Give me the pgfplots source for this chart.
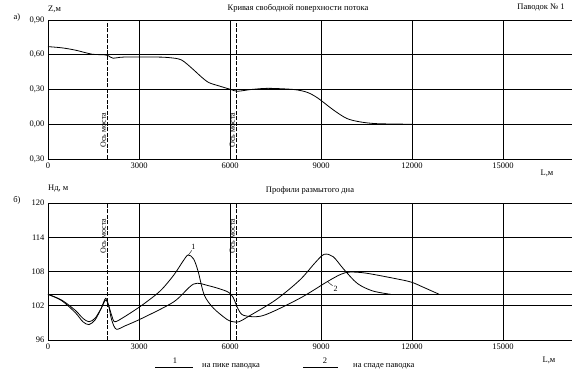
\documentclass[border=0pt]{standalone}
\usepackage{fontspec}
\setmainfont{Liberation Serif}
\usepackage{pgfplots}
\pgfplotsset{compat=1.18}
\pgfplotsset{
 panel/.style={scale only axis, anchor=south west, width=524pt, xmin=0, xmax=17275,
  axis x line*=bottom, axis y line*=left, axis line style={-, line width=0.8pt},
  xtick={0,3000,6000,9000,12000,15000}, xticklabels={0,3000,6000,9000,12000,15000},
  scaled x ticks=false, scaled y ticks=false,
  major tick length=0pt, ymajorgrids, xmajorgrids,
  x grid style={line width=0.5pt, black}, y grid style={line width=0.9pt, black},
  tick label style={font=\fontsize{8.5}{9}\selectfont},
  /pgf/number format/assume math mode=true,
  clip=false},
 curve/.style={black, line width=0.8pt, smooth, tension=0.5, no marks},
 bridge/.style={black, line width=0.5pt, dash pattern=on 4pt off 1.5pt, no marks}
}
\tikzset{bridgetext/.style={rotate=90, anchor=south, inner sep=1pt, font=\fontsize{8}{9}\selectfont}}
\begin{document}
\begin{tikzpicture}
\useasboundingbox (0pt,0pt) rectangle (575pt,372pt);
% ---------- panel a ----------
\begin{axis}[panel, at={(48pt,213pt)}, height=139pt, ymin=-0.3, ymax=0.9,
  ytick={-0.3,0,0.3,0.6,0.9}, yticklabels={{0,30},{0,00},{0,30},{0,60},{0,90}}]
\addplot[curve] coordinates {
(0,0.67) (450,0.66) (900,0.64) (1450,0.605) (1850,0.60) (2000,0.59) (2150,0.57)
(2500,0.58) (3600,0.58) (4000,0.575) (4400,0.555) (4800,0.47) (5050,0.41) (5300,0.36)
(5650,0.33) (6030,0.30) (6250,0.285) (6700,0.30) (7250,0.31) (8100,0.30) (8550,0.275)
(8900,0.225) (9400,0.125) (9850,0.05) (10300,0.02) (10850,0.005) (12000,0.0)};
\addplot[bridge] coordinates {(1950,-0.3) (1950,0.9)};
\addplot[bridge] coordinates {(6200,-0.3) (6200,0.9)};
\node[bridgetext] at (axis cs:1950,-0.05) {Ось моста};
\node[bridgetext] at (axis cs:6200,-0.05) {Ось моста};
\end{axis}
% ---------- panel b ----------
\begin{axis}[panel, at={(48pt,32pt)}, height=137pt, ymin=96, ymax=120,
  ytick={96,102,108,114,120}, yticklabels={96,102,108,114,120}]
\addplot[black, line width=0.9pt, no marks] coordinates {(0,104) (17275,104)};
\addplot[curve] coordinates {
(0,104.0) (450,103.0) (900,101.2) (1150,99.8) (1350,99.2) (1550,99.8) (1750,101.5)
(1900,103.0) (2000,102.0) (2100,100.3) (2200,99.2) (2500,100.0) (3100,102.1)
(3700,104.6) (4150,107.4) (4450,109.8) (4620,110.9) (4800,110.2) (4950,108.0)
(5150,103.9) (5450,101.6) (5900,99.6) (6100,99.2) (6300,99.2) (6600,100.1)
(7500,103.0) (8300,106.5) (8800,109.5) (9100,111.0) (9400,110.6) (9750,108.4)
(10200,105.9) (10700,104.6) (11300,104.0)};
\addplot[curve] coordinates {
(0,104.0) (450,102.9) (900,100.8) (1150,99.2) (1350,98.7) (1550,99.5) (1750,101.5)
(1900,103.3) (2000,102.0) (2100,99.5) (2250,97.9) (2550,98.5) (3100,99.8)
(4150,102.7) (4800,105.8) (5300,105.5) (5900,104.5) (6100,103.5) (6260,101.5)
(6460,100.3) (7100,100.3) (8300,103.3) (9200,106.2) (9650,107.5) (9950,107.9)
(10500,107.7) (11600,106.6) (12000,106.1) (12350,105.3) (12900,104.0)};
\addplot[bridge] coordinates {(1950,96) (1950,120)};
\addplot[bridge] coordinates {(6200,96) (6200,120)};
\node[bridgetext] at (axis cs:1950,114.2) {Ось моста};
\node[bridgetext] at (axis cs:6200,114.2) {Ось моста};
\draw[line width=0.4pt] (axis cs:4630,110.9) -- (axis cs:4740,111.7);
\node[font=\fontsize{8}{9}\selectfont, inner sep=0pt] at (axis cs:4790,112.3) {1};
\draw[line width=0.4pt] (axis cs:9200,106.3) -- (axis cs:9380,105.5);
\node[font=\fontsize{8}{9}\selectfont, inner sep=0pt] at (axis cs:9480,105.0) {2};
\end{axis}
% ---------- texts ----------
\begin{scope}[font=\fontsize{8.5}{9}\selectfont]
\node at (17pt,355pt) {а)};
\node[anchor=west, inner sep=0pt] at (48pt,363pt) {Z,м};
\node at (298pt,364pt) {Кривая свободной поверхности потока};
\node at (541pt,364pt) {Паводок № 1};
\node at (547pt,199pt) {L,м};
\node at (17pt,172pt) {б)};
\node[anchor=west, inner sep=0pt] at (48pt,183pt) {Нд, м};
\node at (310pt,182pt) {Профили размытого дна};
\node at (549pt,12pt) {L,м};
\draw[line width=0.8pt] (155pt,5pt) -- (193pt,5pt);
\node at (175pt,11pt) {1};
\node[anchor=west, inner sep=0pt] at (202pt,6pt) {на пике паводка};
\draw[line width=0.8pt] (303pt,5pt) -- (338pt,5pt);
\node at (325pt,11pt) {2};
\node[anchor=west, inner sep=0pt] at (353pt,6pt) {на спаде паводка};
\end{scope}
\end{tikzpicture}
\end{document}
